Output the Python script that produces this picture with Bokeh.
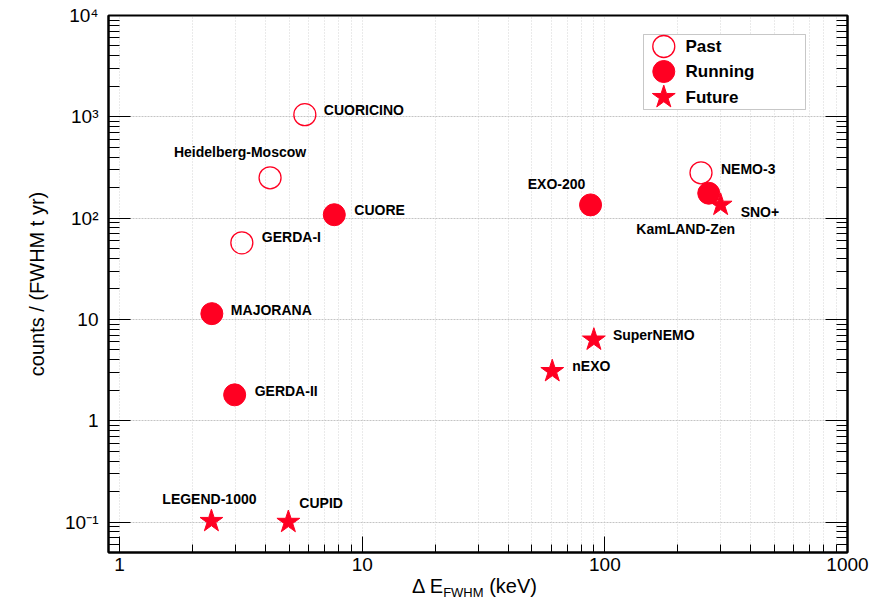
import math
from bokeh.plotting import figure
from bokeh.layouts import column
from bokeh.models import (LogAxis, FixedTicker, Range1d, Label, BoxAnnotation,
                          ColumnDataSource, Div)
from bokeh.core.properties import value
from bokeh.embed import file_html
from bokeh.resources import INLINE

# ---------------- data ----------------
past_names = ["CUORICINO", "Heidelberg-Moscow", "GERDA-I", "NEMO-3"]
past_fwhm = [5.8, 4.17, 3.19, 249.0]
past_bkg = [1050.0, 250.0, 57.0, 280.0]

running_names = ["CUORE", "MAJORANA", "GERDA-II", "EXO-200", "KamLAND-Zen"]
running_fwhm = [7.67, 2.40, 2.98, 87.3, 268.0]
running_bkg = [108.0, 11.4, 1.8, 135.0, 176.0]

future_names = ["SNO+", "SuperNEMO", "nEXO", "LEGEND-1000", "CUPID"]
future_fwhm = [300.0, 90.1, 60.7, 2.39, 4.96]
future_bkg = [135.0, 6.3, 3.08, 0.102, 0.1]

x_ticks = [1, 10, 100, 1000]
x_tick_labels = ["1", "10", "100", "1000"]
y_ticks = [0.1, 1, 10, 100, 1000, 10000]
y_tick_labels = ["10\u207b\u00b9", "1", "10", "10\u00b2", "10\u00b3", "10\u2074"]

legend_labels = ["Past", "Running", "Future"]

# ---------------- layout / style ----------------
RED = "#ff0022"
FONT = "Liberation Sans"
X_MIN, X_MAX = 0.9, 1000
Y_MIN, Y_MAX = 0.05, 10000
FRAME_H = 537

# label offsets in pixels (dx, dy, align)
label_layout = {
    "CUORICINO": (19, -5, "left"),
    "Heidelberg-Moscow": (-30, -26, "center"),
    "CUORE": (20, -5, "left"),
    "GERDA-I": (20, -6, "left"),
    "MAJORANA": (19, -4, "left"),
    "GERDA-II": (20, -4, "left"),
    "EXO-200": (-34, -21, "center"),
    "NEMO-3": (20, -4, "left"),
    "KamLAND-Zen": (-23, 36, "center"),
    "SNO+": (20, 7, "left"),
    "SuperNEMO": (19, -5, "left"),
    "nEXO": (20, -5, "left"),
    "LEGEND-1000": (-2, -22, "center"),
    "CUPID": (11, -19, "left"),
}

p = figure(width=884, height=580, x_axis_type="log", y_axis_type="log",
           x_range=Range1d(X_MIN, X_MAX), y_range=Range1d(Y_MIN, Y_MAX),
           output_backend="svg", toolbar_location=None,
           min_border_left=108, min_border_right=37, min_border_top=15,
           min_border_bottom=28, background_fill_color="white",
           border_fill_color="white")
p.outline_line_color = "black"
p.outline_line_width = 2

x_minor = [m * 10 ** k for k in range(0, 3) for m in range(2, 10)]
y_minor = [m * 10.0 ** k for k in range(-2, 4) for m in range(2, 10)
           if Y_MIN <= m * 10.0 ** k <= Y_MAX]
xticker = FixedTicker(ticks=x_ticks, minor_ticks=x_minor)
yticker = FixedTicker(ticks=y_ticks, minor_ticks=y_minor)

xa = p.xaxis[0]
ya = p.yaxis[0]
xa.ticker = xticker
ya.ticker = yticker
p.xgrid.ticker = xticker
p.ygrid.ticker = yticker

xa.major_label_overrides = {t: s for t, s in zip(x_ticks, x_tick_labels)}
ya.major_label_overrides = {t: s for t, s in zip(y_ticks, y_tick_labels)}

for ax, maj, mnr in ((xa, 16, 8), (ya, 22, 11)):
    ax.axis_line_width = 2
    ax.axis_line_color = "black"
    ax.major_tick_in = maj
    ax.major_tick_out = 0
    ax.minor_tick_in = mnr
    ax.minor_tick_out = 0
    ax.major_tick_line_color = "black"
    ax.minor_tick_line_color = "black"
    ax.major_label_text_font = FONT
    ax.major_label_text_font_size = "19px"
    ax.major_label_text_color = "black"

xa.major_label_standoff = 5
ya.major_label_standoff = 10
ya.axis_label = "counts / (FWHM t yr)"
ya.axis_label_text_font = FONT
ya.axis_label_text_font_size = "20px"
ya.axis_label_text_font_style = "normal"
ya.axis_label_text_color = "black"
ya.axis_label_standoff = 14

ra = LogAxis(ticker=yticker, major_tick_in=22, major_tick_out=0,
             minor_tick_in=11, minor_tick_out=0, axis_line_width=2,
             major_label_text_font_size="1px", major_label_text_color=None,
             major_label_standoff=0)
p.add_layout(ra, "right")

# grids
p.xgrid.grid_line_color = "#d4d4d4"
p.xgrid.grid_line_dash = "1 2"
p.xgrid.minor_grid_line_color = "#d4d4d4"
p.xgrid.minor_grid_line_dash = "1 2"
p.ygrid.grid_line_color = "#c4c4c4"
p.ygrid.grid_line_dash = "2 1"

# legend box (under glyphs, over grid)
box = BoxAnnotation(left=535, right=697, bottom=443, top=518,
                    left_units="screen", right_units="screen",
                    bottom_units="screen", top_units="screen",
                    fill_color="white", fill_alpha=1.0,
                    line_color="#444444", line_width=1, level="underlay")
p.add_layout(box)

# ---------------- markers ----------------
src_past = ColumnDataSource(dict(x=past_fwhm, y=past_bkg, name=past_names))
src_run = ColumnDataSource(dict(x=running_fwhm, y=running_bkg, name=running_names))
src_fut = ColumnDataSource(dict(x=future_fwhm, y=future_bkg, name=future_names))

p.scatter("x", "y", source=src_past, marker="circle", size=22,
          fill_color="white", fill_alpha=0.0, line_color=RED, line_width=1.3)
p.scatter("x", "y", source=src_run, marker="circle", size=22,
          fill_color=RED, line_color=RED)
p.scatter("x", "y", source=src_fut, marker="star", size=24,
          fill_color=RED, line_color=RED)

# ---------------- point labels ----------------
all_names = past_names + running_names + future_names
all_x = past_fwhm + running_fwhm + future_fwhm
all_y = past_bkg + running_bkg + future_bkg
lab_src = ColumnDataSource(dict(
    x=all_x, y=all_y, text=all_names,
    dx=[label_layout[n][0] for n in all_names],
    dy=[label_layout[n][1] for n in all_names],
    align=[label_layout[n][2] for n in all_names],
))
p.text("x", "y", text="text", source=lab_src, x_offset="dx", y_offset="dy",
       text_align="align", text_baseline="middle",
       text_font=value(FONT), text_font_style="bold",
       text_font_size="14px", text_color="black")

# ---------------- legend (manual) ----------------
def frac_to_x(f):
    lo, hi = math.log10(X_MIN), math.log10(X_MAX)
    return 10 ** (lo + f * (hi - lo))

def frac_to_y(f):
    lo, hi = math.log10(Y_MIN), math.log10(Y_MAX)
    return 10 ** (lo + f * (hi - lo))

key_fx = 0.7514
key_fy = [0.9423, 0.8957, 0.8479]
kx = frac_to_x(key_fx)
p.scatter([kx], [frac_to_y(key_fy[0])], marker="circle", size=22,
          fill_alpha=0.0, line_color=RED, line_width=1.3)
p.scatter([kx], [frac_to_y(key_fy[1])], marker="circle", size=22,
          fill_color=RED, line_color=RED)
p.scatter([kx], [frac_to_y(key_fy[2])], marker="star", size=24,
          fill_color=RED, line_color=RED)

for txt, fy in zip(legend_labels, key_fy):
    p.add_layout(Label(x=577, y=fy * FRAME_H, x_units="screen", y_units="screen",
                       text=txt, text_font=FONT, text_font_style="bold",
                       text_font_size="17px", text_baseline="middle",
                       text_color="black"))

# ---------------- x axis title (with subscript) ----------------
xtitle = Div(
    text=('<div style="position:relative; left:412px; top:-4px; '
          'white-space:nowrap; font-family:\'Liberation Sans\'; '
          'font-size:20px; color:black; line-height:20px;">'
          '\u0394 E<span style="font-size:13px; line-height:13px; '
          'vertical-align:-4px;">FWHM</span> (keV)</div>'),
    width=884, height=21, margin=(0, 0, 0, 0))

layout = column(p, xtitle, spacing=0)
open("out.html", "w").write(file_html(layout, INLINE))
